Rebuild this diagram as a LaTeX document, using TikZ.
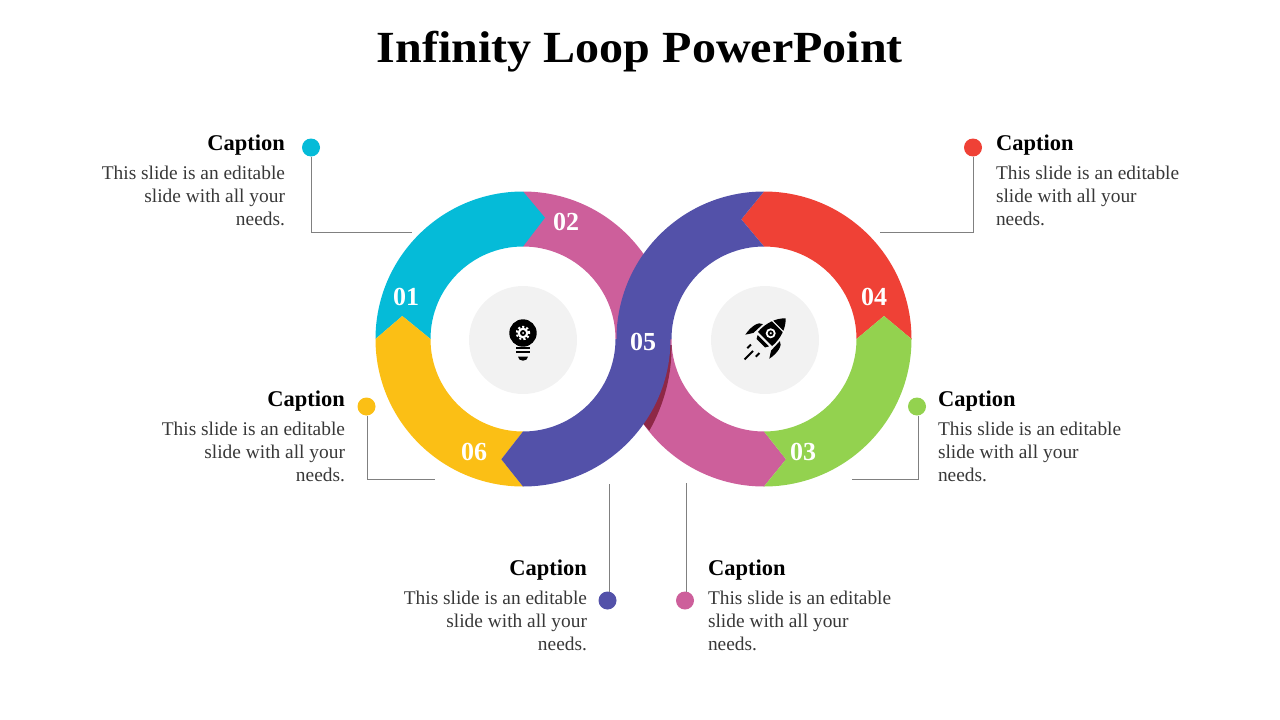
\documentclass[tikz,border=0pt]{standalone}
\usepackage{fontspec}
\setmainfont{Liberation Serif}
\newfontfamily\titlefont[FakeStretch=1.08]{Liberation Serif}
\usetikzlibrary{calc,positioning}
\definecolor{capcyan}{HTML}{05BBD8}
\definecolor{cappink}{HTML}{CD5F9B}
\definecolor{capgreen}{HTML}{93D24F}
\definecolor{capred}{HTML}{EF4136}
\definecolor{capblue}{HTML}{5351A9}
\definecolor{capyellow}{HTML}{FBBF15}
\definecolor{capdark}{HTML}{8E2846}
\def\ro{147.5pt}
\def\ri{92.5pt}
\tikzset{
  caphead/.style={font=\fontsize{22.5}{24}\selectfont\bfseries, inner sep=0pt, outer sep=0pt},
  capbody/.style={font=\fontsize{19.4}{23}\selectfont, text=black!78, inner sep=0pt, outer sep=0pt},
  capnum/.style={font=\fontsize{26}{28}\selectfont\bfseries, text=white, inner sep=0pt},
  capdot/.style={circle, minimum size=18pt, inner sep=0pt, outer sep=0pt},
  capline/.style={draw=black!50, line width=0.9pt},
  hubdisc/.style={circle, fill=black!5, minimum size=108pt, inner sep=0pt}
}
\begin{document}
\begin{tikzpicture}[x=1pt,y=1pt]
  \useasboundingbox (0,-720) rectangle (1280,0);

  \node[font=\fontsize{44.5}{48}\titlefont\bfseries, inner sep=0pt, anchor=base] (title) at (640,-62) {Infinity Loop PowerPoint};

  \coordinate (lc) at (523,-339);
  \coordinate (rc) at (764,-339);
  \coordinate (tip1) at (545,-217.7);
  \coordinate (tip2) at (741.3,-219.3);
  \coordinate (tip3) at (786,-459.3);
  \coordinate (tip4) at (501.3,-459.3);
  \coordinate (apex1) at (402.3,-316);
  \coordinate (apex2) at (884,-316);

  \fill[cappink] ($(lc)+(90:\ro)$) arc[start angle=90, end angle=0, radius=\ro] -- ($(lc)+(0:\ri)$) arc[start angle=0, end angle=90, radius=\ri] -- cycle;
  \fill[cappink] ($(rc)+(270:\ro)$) arc[start angle=270, end angle=180, radius=\ro] -- ($(rc)+(180:\ri)$) arc[start angle=180, end angle=270, radius=\ri] -- (tip3) -- cycle;
  \fill[capdark] (671.5,-345) .. controls (672,-375) and (664,-405) .. (649.3,-430.7) -- (640,-420) -- (660,-345) -- cycle;
  \fill[capcyan] ($(lc)+(180:\ro)$) arc[start angle=180, end angle=90, radius=\ro] -- (tip1) -- ($(lc)+(90:\ri)$) arc[start angle=90, end angle=180, radius=\ri] -- (apex1) -- cycle;
  \fill[capyellow] ($(lc)+(180:\ro)$) arc[start angle=180, end angle=270, radius=\ro] -- (tip4) -- ($(lc)+(270:\ri)$) arc[start angle=270, end angle=180, radius=\ri] -- (apex1) -- cycle;
  \fill[capred] ($(rc)+(90:\ro)$) arc[start angle=90, end angle=0, radius=\ro] -- (apex2) -- ($(rc)+(0:\ri)$) arc[start angle=0, end angle=90, radius=\ri] -- (tip2) -- cycle;
  \fill[capgreen] ($(rc)+(0:\ro)$) arc[start angle=0, end angle=-90, radius=\ro] -- (tip3) -- ($(rc)+(-90:\ri)$) arc[start angle=-90, end angle=0, radius=\ri] -- (apex2) -- cycle;
  \fill[capblue] ($(rc)+(90:\ro)$) arc[start angle=90, end angle=180, radius=\ro] -- ($(lc)+(0:\ri)$) arc[start angle=0, end angle=-90, radius=\ri] -- (tip4) -- ($(lc)+(270:\ro)$) arc[start angle=-90, end angle=0, radius=\ro] -- ($(rc)+(180:\ri)$) arc[start angle=180, end angle=90, radius=\ri] -- (tip2) -- cycle;

  \node[capnum] (n1) at (406,-297) {01};
  \node[capnum] (n2) at (566,-222) {02};
  \node[capnum] (n3) at (803,-452) {03};
  \node[capnum] (n4) at (874,-297) {04};
  \node[capnum] (n5) at (643,-342) {05};
  \node[capnum] (n6) at (474,-452) {06};

  \node[hubdisc] (hubl) at (523,-340) {};
  \node[hubdisc] (hubr) at (765,-340) {};

  \fill (523,-333) circle (13.7pt);
  \fill (516,-338) rectangle (530,-345);
  \fill (516,-347) rectangle (530,-349.3);
  \fill (516,-351) rectangle (530,-353.3);
  \fill (518,-356.7) -- (528,-356.7) arc[start angle=0, end angle=-180, x radius=5pt, y radius=4pt] -- cycle;
  \draw[white, line width=2pt, dash pattern=on 2.1pt off 2.1pt] (523,-333) circle (6.2pt);
  \fill[white] (523,-333) circle (5.4pt);
  \fill (523,-333) circle (3pt);
  \fill[white] (523,-333) circle (1pt);

  \begin{scope}[shift={(770,-334)}, rotate=-45]
    \fill (-10,-7) .. controls (-11,4) and (-7,16) .. (0,22) .. controls (7,16) and (11,4) .. (10,-7) -- cycle;
    \fill (-8,-9.5) -- (8,-9.5) -- (6,-13) -- (-6,-13) -- cycle;
    \draw[white, line width=1pt] (-10,11) -- (10,11);
    \fill (-12,2) .. controls (-17,1) and (-19,-8) .. (-17,-18) -- (-12.5,-11) -- cycle;
    \fill (12,2) .. controls (17,1) and (19,-8) .. (17,-18) -- (12.5,-11) -- cycle;
    \fill[white] (0,1) circle (5pt);
    \fill (0,1) circle (3pt);
    \fill[white] (0,1) circle (1.2pt);
    \draw[line width=2pt] (0,-24) -- (0,-36);
    \draw[line width=2pt] (-6,-21) -- (-6,-26);
    \draw[line width=2pt] (6,-21) -- (6,-26);
  \end{scope}

  \node[capdot, fill=capcyan] (dot1) at (311,-147.5) {};
  \node[capdot, fill=cappink] (dot2) at (685,-600.5) {};
  \node[capdot, fill=capgreen] (dot3) at (917,-406.5) {};
  \node[capdot, fill=capred] (dot4) at (973,-147.5) {};
  \node[capdot, fill=capblue] (dot5) at (607.5,-600.5) {};
  \node[capdot, fill=capyellow] (dot6) at (366.5,-406.5) {};

  \coordinate (end1) at (412,-232.5);
  \coordinate (end2) at (686.5,-483);
  \coordinate (end3) at (852,-479);
  \coordinate (end4) at (880,-232.5);
  \coordinate (end5) at (609.5,-484);
  \coordinate (end6) at (435,-479);

  \draw[capline] (dot1.south) |- (end1);
  \draw[capline] (end2) -- (end2 |- dot2.north);
  \draw[capline] ($(dot3.south)+(1.5,0)$) |- (end3);
  \draw[capline] (dot4.south) |- (end4);
  \draw[capline] (end5) -- (end5 |- dot5.north);
  \draw[capline] ($(dot6.south)+(1,0)$) |- (end6);

  \node[caphead, anchor=base east] (cap1) at (285,-150) {Caption};
  \node[capbody, align=right, anchor=base east] (txt1) at (285,-225.5) {This slide is an editable\\slide with all your\\needs.};
  \node[caphead, anchor=base west] (cap2) at (708,-575) {Caption};
  \node[capbody, align=left, anchor=base west] (txt2) at (708,-650.5) {This slide is an editable\\slide with all your\\needs.};
  \node[caphead, anchor=base west] (cap3) at (938,-406) {Caption};
  \node[capbody, align=left, anchor=base west] (txt3) at (938,-481.5) {This slide is an editable\\slide with all your\\needs.};
  \node[caphead, anchor=base west] (cap4) at (996,-150) {Caption};
  \node[capbody, align=left, anchor=base west] (txt4) at (996,-225.5) {This slide is an editable\\slide with all your\\needs.};
  \node[caphead, anchor=base east] (cap5) at (587,-575) {Caption};
  \node[capbody, align=right, anchor=base east] (txt5) at (587,-650.5) {This slide is an editable\\slide with all your\\needs.};
  \node[caphead, anchor=base east] (cap6) at (345,-406) {Caption};
  \node[capbody, align=right, anchor=base east] (txt6) at (345,-481.5) {This slide is an editable\\slide with all your\\needs.};
\end{tikzpicture}
\end{document}
